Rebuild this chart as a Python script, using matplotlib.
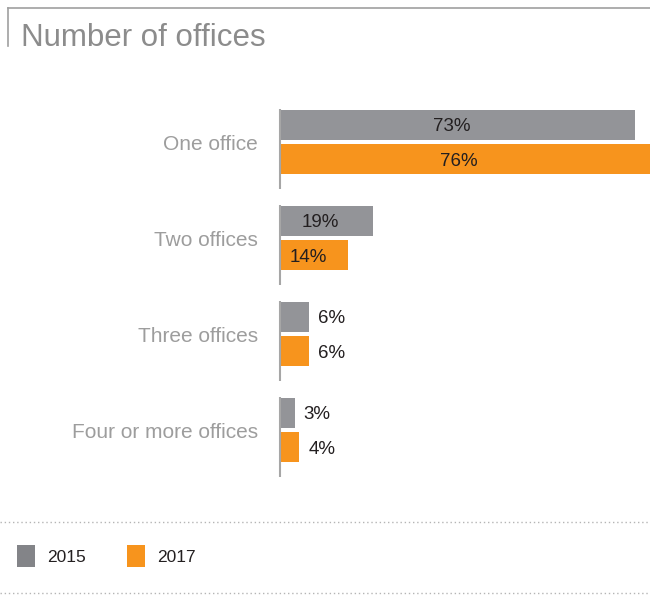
import numpy as np
import matplotlib.pyplot as plt
from matplotlib.lines import Line2D
from matplotlib.patches import Rectangle

plt.rcParams['font.family'] = ['Liberation Sans', 'DejaVu Sans']

categories = ['One office', 'Two offices', 'Three offices', 'Four or more offices']
years = ['2015', '2017']
share_2015 = [73, 19, 6, 3]
share_2017 = [76, 14, 6, 4]

GREY = '#939498'
ORANGE = '#f7941d'
LABEL = '#9d9d9d'
INK = '#231f20'

W, H = 650, 596
fig = plt.figure(figsize=(W / 100, H / 100), dpi=100)


def fx(px):
    return px / W


def fy(py):
    return 1 - py / H


# Title with the thin frame above and left of it
fig.add_artist(Line2D([fx(8), 1], [fy(8), fy(8)], color='#a0a0a0', lw=1.2))
fig.add_artist(Line2D([fx(8), fx(8)], [fy(8), fy(46)], color='#a0a0a0', lw=1.2))
fig.text(fx(21), fy(35), 'Number of offices', fontsize=22.5, color='#8c8c8c',
         va='center_baseline', ha='left')

# Bar axes
ax = fig.add_axes([fx(280), fy(490), 1 - fx(280), (490 - 100) / H])
ax.set_xlim(0, 76)
ax.set_ylim(3.625, -0.4375)
ax.axis('off')

y = np.arange(len(categories))
h = 0.315
off = 0.18
ax.barh(y - off, share_2015, height=h, color=GREY, linewidth=0)
ax.barh(y + off, share_2017, height=h, color=ORANGE, linewidth=0)

# Short axis segment for each group
for yi in y:
    ax.plot([0, 0], [yi - 0.34, yi + 0.49], color='#a6a6a6', lw=1.5,
            solid_capstyle='butt', clip_on=False)
    ax.text(-4.5, yi, categories[yi], ha='right', va='center_baseline',
            fontsize=15, color=LABEL)

for vals, dy in ((share_2015, -off), (share_2017, off)):
    for yi, v in zip(y, vals):
        if v >= 10:
            ax.text(v / 2 - 1.2, yi + dy, f'{v}%', ha='center',
                    va='center_baseline', fontsize=13.5, color=INK)
        else:
            ax.text(v + 1.8, yi + dy, f'{v}%', ha='left',
                    va='center_baseline', fontsize=13.5, color=INK)

# Dotted rules around the legend
for py in (522, 593):
    fig.add_artist(Line2D([0, 1], [fy(py), fy(py)], color='#b5b5b5', lw=1,
                          linestyle=(0, (1, 2))))

# Legend swatches
for x0, label, col in ((17, years[0], '#838488'), (127, years[1], ORANGE)):
    fig.add_artist(Rectangle((fx(x0), fy(567)), fx(18), (567 - 545) / H,
                             color=col, lw=0))
    fig.text(fx(x0 + 30), fy(556), label, fontsize=12.5, color=INK,
             va='center_baseline', ha='left')

fig.savefig('out.png', dpi=100)
